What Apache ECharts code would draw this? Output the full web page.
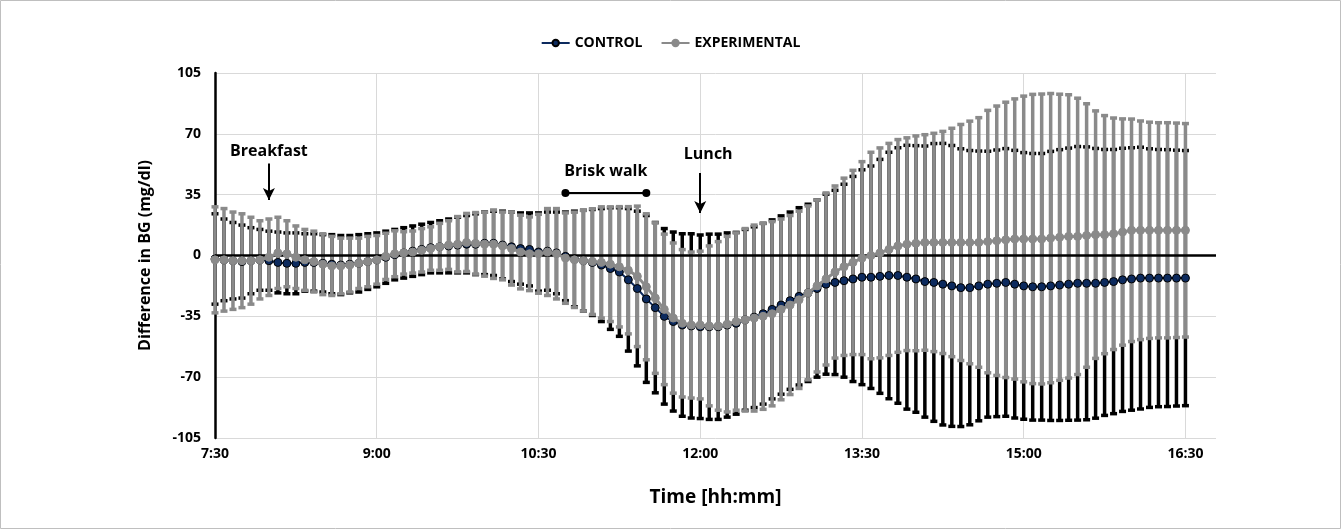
<!DOCTYPE html>
<html>
<head>
<meta charset="utf-8">
<script src="https://cdn.jsdelivr.net/npm/echarts@6/dist/echarts.min.js"></script>
<style>
html,body{margin:0;padding:0;background:#fff;}
#chart{width:1341px;height:529px;}
</style>
</head>
<body>
<div id="chart"></div>
<script>
// Time axis: minutes after midnight, one reading every 5 minutes from 7:30 to 16:30
const startMin = 450, stepMin = 5, nPoints = 109;
const times = [];
for (let i = 0; i < nPoints; i++) times.push(startMin + i * stepMin);

const xTickValues = [450, 540, 630, 720, 810, 900, 990];
const xTickLabels = ['7:30', '9:00', '10:30', '12:00', '13:30', '15:00', '16:30'];
const yTickLabels = ['-105', '-70', '-35', '0', '35', '70', '105'];

const seriesNames = ['CONTROL', 'EXPERIMENTAL'];

const ctrlMean = [
 -2, -2.5, -3, -3.5, -3, -2.5, -3, -4, -4.5, -4.5, -4, -4, -4.5, -5, -5.5, -5, -4.5, -3.5, -2.5,
 -1, 0.5, 1.5, 2.5, 3.5, 4.5, 5, 5.5, 6, 6.5, 6.5, 7, 7, 6, 5, 4, 3.5,
 2, 2.5, 1.5, -0.5, -2, -3, -4, -5.5, -7.5, -9.5, -14, -19, -25, -30, -35, -38, -40, -40.5,
 -41, -41, -41, -40, -39, -37, -35.5, -33.5, -31, -28.5, -26, -23.5, -21.5, -19, -16.5, -15.5, -14.5, -13.5, -12.5,
 -12.5, -12, -11.5, -11.5, -12.5, -13.5, -15, -15.5, -16.5, -17.5, -18.5, -18.5, -17.5, -16.5, -16, -15.5, -16.5, -17.5,
 -18, -18, -17.5, -17, -16.5, -16, -16, -16, -15.5, -15, -14, -13.5, -13, -13, -13, -13, -13, -13
];
const ctrlSD = [
 26, 23.5, 22, 21, 19, 17.5, 17, 17.5, 17.5, 17.5, 16.5, 16.5, 16.5, 17, 17, 16.5, 16.5, 16, 15.5,
 15, 14.5, 14.5, 14.5, 14.5, 14.5, 15, 15.5, 16, 16.5, 17.5, 18, 18.5, 19.5, 20, 20.5, 21,
 22.5, 22.5, 23.5, 25.5, 27.5, 29, 30.5, 32.5, 35, 37, 41, 44.5, 48, 49, 50.5, 51.5, 52.5, 53,
 52.8, 53.3, 53.3, 53, 52.3, 52, 52, 52, 51.5, 51.3, 51, 51, 51, 51, 51.8, 53, 55.5, 59, 61.8,
 64, 67.3, 70.9, 73.5, 75.9, 76.7, 78, 79.9, 81, 80.8, 79.9, 78.9, 77.6, 76.5, 76.7, 77, 77, 76.7,
 76.7, 76.7, 77.4, 77.9, 78.3, 78.7, 78.5, 77.6, 76.5, 76, 75.7, 75.5, 75.3, 74.4, 74, 73.9, 73.6, 73.4
];
const expMean = [
 -2.5, -2.5, -3, -3, -3, -2.5, -1, 1.5, 1, -1, -2.5, -3.5, -5, -6, -6, -5.5, -4.5, -3.5, -2.5,
 -0.5, 1, 1.5, 2, 3, 4, 5, 6, 6.5, 7.5, 7, 6.5, 6.5, 5.5, 4, 2, 1,
 1, 2, 1, -1.5, -2.5, -3, -3.5, -4, -5, -6.5, -8.5, -12, -18, -24.5, -31, -36, -39, -40,
 -40, -40.5, -40.5, -39.5, -38, -37, -36, -35, -33.5, -31, -28.5, -25.5, -21.5, -17.5, -13.5, -9.5, -6.5, -4, -1.5,
 0, 1.5, 3.5, 5.5, 6.5, 7, 7.5, 7.5, 7.5, 7.5, 7.5, 7.5, 7.5, 8, 8.5, 9, 9.5, 9.5,
 9.5, 9.5, 10, 10.5, 11, 11, 11.5, 12, 12, 12.5, 13.5, 14.5, 14.5, 14.5, 14.5, 14.5, 14.5, 14.5
];
const expSD = [
 30.5, 29.5, 28, 27, 25, 22.5, 22, 20.5, 19, 18, 17.5, 17.5, 17.5, 17, 16, 15.5, 14.5, 14.5, 14,
 13.3, 13.2, 12.2, 12.1, 12.5, 12.5, 13.5, 14, 15.9, 16.7, 17.7, 18.4, 19.7, 19.5, 21, 21.2, 21.2,
 22.7, 25, 26, 26, 27.4, 29, 30.4, 32, 33, 34.6, 36.6, 40.4, 42, 43.3, 43.3, 43.2, 42.4, 42,
 42.5, 46, 48.5, 50.5, 51, 52.5, 53.5, 53.5, 53, 52, 51.5, 51, 50, 49.5, 49.5, 49.5, 51, 53, 55.5,
 59.4, 60.4, 61, 61.2, 61.2, 61.8, 62, 62.8, 63.9, 65.7, 67.9, 69.8, 71.8, 75.5, 77.5, 79.2, 80.6, 82.2,
 83.2, 83.4, 83.2, 82.3, 81.5, 79.5, 75.8, 71.2, 68.5, 66.6, 65.1, 64, 62.9, 62.2, 61.9, 61.9, 61.7, 61.4
];

// Annotations (data coordinates: minutes, mg/dl)
const breakfastTime = 480, lunchTime = 720;
const walkStart = 645, walkEnd = 690;

const FONT = 'Open Sans';
const pairs = (m) => times.map((t, i) => [t, m[i]]);
const errData = (m, s) => times.map((t, i) => [t, m[i] - s[i], m[i] + s[i]]);

function errRender(color, lw, capW) {
  return function (params, api) {
    const x = api.value(0), lo = api.value(1), hi = api.value(2);
    const p1 = api.coord([x, hi]), p2 = api.coord([x, lo]);
    const style = { stroke: color, lineWidth: lw };
    return {
      type: 'group',
      children: [
        { type: 'line', shape: { x1: p1[0], y1: p1[1], x2: p2[0], y2: p2[1] }, style: style },
        { type: 'line', shape: { x1: p1[0] - capW / 2, y1: p1[1], x2: p1[0] + capW / 2, y2: p1[1] }, style: style },
        { type: 'line', shape: { x1: p2[0] - capW / 2, y1: p2[1], x2: p2[0] + capW / 2, y2: p2[1] }, style: style }
      ]
    };
  };
}

const chart = echarts.init(document.getElementById('chart'));
const labelMap = {};
xTickValues.forEach((v, i) => labelMap[v] = xTickLabels[i]);

const annLabel = { color: '#000', fontFamily: FONT, fontWeight: 'bold', fontSize: 16 };

chart.setOption({
  animation: false,
  backgroundColor: '#fff',
  textStyle: { fontFamily: FONT },
  graphic: [{
    type: 'rect', silent: true, z: -10,
    shape: { x: 0.5, y: 0.5, width: 1340, height: 528 },
    style: { fill: 'none', stroke: '#bfbfbf', lineWidth: 1 }
  }],
  legend: {
    data: seriesNames,
    top: 31,
    left: 'center',
    itemWidth: 28,
    itemHeight: 8,
    itemGap: 18,
    textStyle: { color: '#000', fontFamily: FONT, fontWeight: 'bold', fontSize: 14 }
  },
  grid: { left: 215, right: 125, top: 73, bottom: 91, containLabel: false },
  xAxis: {
    type: 'value',
    min: 450,
    max: 1007,
    interval: 90,
    name: 'Time [hh:mm]',
    nameLocation: 'middle',
    nameGap: 50,
    nameTextStyle: { color: '#000', fontFamily: FONT, fontWeight: 'bold', fontSize: 19 },
    axisLine: { show: false, onZero: false },
    axisTick: { show: false },
    axisLabel: {
      color: '#000', fontFamily: FONT, fontWeight: 'bold', fontSize: 14, margin: 9,
      showMaxLabel: false,
      formatter: (v) => labelMap[v] || ''
    },
    splitLine: { show: true, showMaxLine: false, lineStyle: { color: '#d9d9d9', width: 1 } }
  },
  yAxis: {
    type: 'value',
    min: -105,
    max: 105,
    interval: 35,
    name: 'Difference in BG (mg/dl)',
    nameLocation: 'middle',
    nameGap: 62,
    nameTextStyle: { color: '#000', fontFamily: FONT, fontWeight: 'bold', fontSize: 16 },
    axisLine: { show: true, lineStyle: { color: '#000', width: 2.5 } },
    axisTick: { show: false },
    axisLabel: {
      color: '#000', fontFamily: FONT, fontWeight: 'bold', fontSize: 14, margin: 14,
      formatter: (v) => yTickLabels[Math.round((v + 105) / 35)]
    },
    splitLine: { show: true, lineStyle: { color: '#d9d9d9', width: 1 } }
  },
  series: [
    {
      name: 'CONTROL_ERR', type: 'custom', z: 2,
      renderItem: errRender('#000000', 3.5, 7),
      encode: { x: 0, y: [1, 2] },
      data: errData(ctrlMean, ctrlSD),
      silent: true
    },
    {
      name: 'EXPERIMENTAL_ERR', type: 'custom', z: 3,
      renderItem: errRender('#8a8a8a', 3.5, 7),
      encode: { x: 0, y: [1, 2] },
      data: errData(expMean, expSD),
      silent: true,
      markLine: {
        silent: true, symbol: 'none', animation: false,
        lineStyle: { color: '#000', width: 2.5, type: 'solid' },
        label: { show: false },
        data: [{ yAxis: 0 }]
      }
    },
    {
      name: 'CONTROL', type: 'line', z: 4,
      data: pairs(ctrlMean),
      symbol: 'circle', symbolSize: 8,
      lineStyle: { color: '#0c2a5e', width: 2 },
      itemStyle: { color: '#0c2a5e', borderColor: '#000', borderWidth: 1 }
    },
    {
      name: 'EXPERIMENTAL', type: 'line', z: 5,
      data: pairs(expMean),
      symbol: 'circle', symbolSize: 8,
      lineStyle: { color: '#8a8a8a', width: 3 },
      itemStyle: { color: '#8a8a8a', borderColor: '#8a8a8a', borderWidth: 1 },
      markLine: {
        silent: true, animation: false,
        lineStyle: { color: '#000', width: 2, type: 'solid' },
        data: [
          [{ coord: [breakfastTime, 53], symbol: 'none', label: { show: true, position: 'start', formatter: 'Breakfast', distance: 4, ...annLabel } },
           { coord: [breakfastTime, 32], symbol: 'arrow', symbolSize: [9, 12] }],
          [{ coord: [lunchTime, 47.5], symbol: 'none', label: { show: true, position: 'start', formatter: 'Lunch', distance: 11, offset: [8, 0], ...annLabel } },
           { coord: [lunchTime, 24.5], symbol: 'arrow', symbolSize: [9, 12] }],
          [{ coord: [walkStart, 36], symbol: 'circle', symbolSize: 8, label: { show: true, position: 'insideMiddleTop', formatter: 'Brisk walk', distance: 13, ...annLabel } },
           { coord: [walkEnd, 36], symbol: 'circle', symbolSize: 8 }]
        ]
      }
    }
  ]
});
</script>
</body>
</html>
